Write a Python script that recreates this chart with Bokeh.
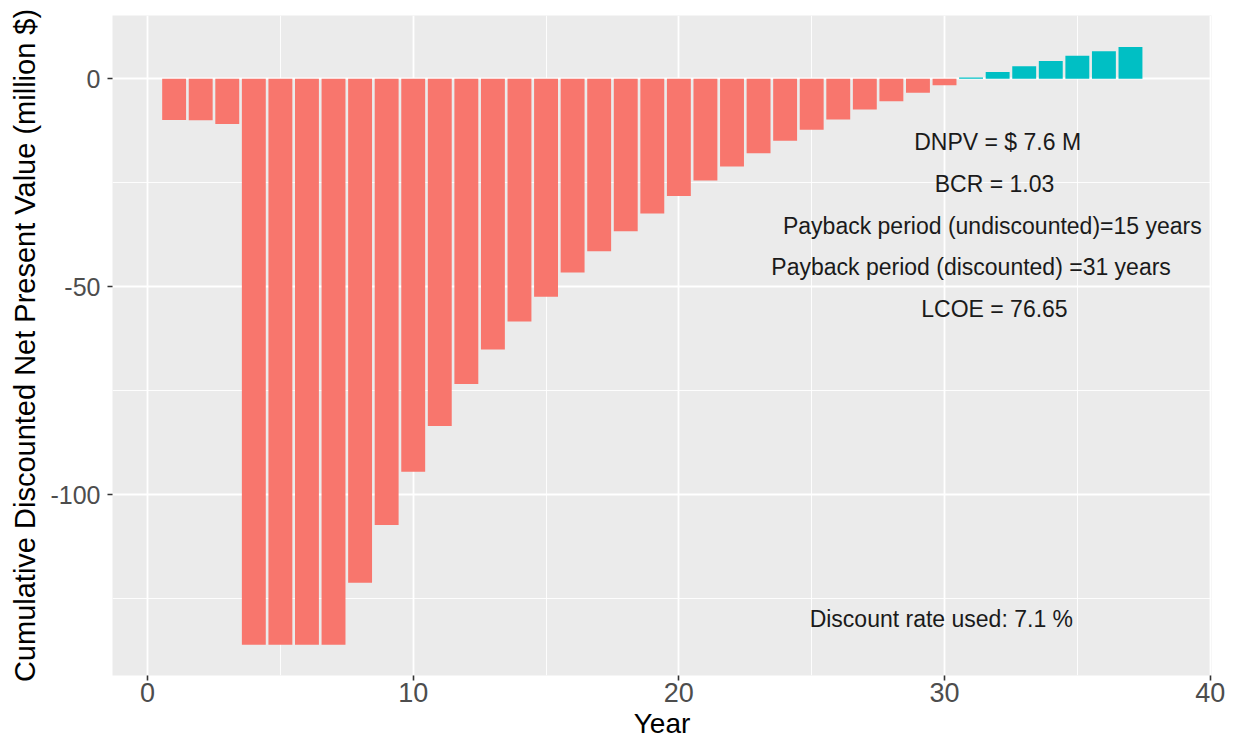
from bokeh.plotting import figure
from bokeh.models import ColumnDataSource, Range1d, FixedTicker
from bokeh.embed import file_html
from bokeh.resources import INLINE
from bokeh.core.properties import value

# ---- data ----
years = list(range(1, 38))
cum_dnpv = [-9.9, -10.0, -10.9, -136.1, -136.1, -136.1, -136.1, -121.2, -107.3, -94.5,
            -83.5, -73.4, -65.1, -58.4, -52.4, -46.6, -41.5, -36.7, -32.4, -28.2,
            -24.5, -21.1, -17.9, -14.9, -12.3, -9.8, -7.4, -5.4, -3.4, -1.6,
            0.3, 1.6, 3.0, 4.25, 5.5, 6.6, 7.6]
x_ticks = [0, 10, 20, 30, 40]
y_ticks = [-100, -50, 0]
y_tick_labels = ["-100", "-50", "0"]
annot_texts = ["DNPV = $ 7.6 M",
               "BCR =  1.03",
               "Payback period (undiscounted)=15 years",
               "Payback period (discounted) =31 years",
               "LCOE =  76.65",
               "Discount rate used:  7.1 %"]

# ---- positions / styles ----
annot_x = [32.0, 32.0, 31.8, 31.0, 32.0, 30.0]
annot_y = [-15.3, -25.3, -35.3, -45.3, -55.3, -130.0]
NEG = "#F8766D"
POS = "#00BFC4"
colors = [POS if v > 0 else NEG for v in cum_dnpv]
FONT = "Liberation Sans"

p = figure(width=1241, height=745, output_backend="svg", toolbar_location=None,
           x_range=Range1d(-1.32, 40.05), y_range=Range1d(-143.5, 15.2),
           min_border_left=112, min_border_right=30, min_border_top=15,
           min_border_bottom=70)
p.background_fill_color = "#EBEBEB"
p.border_fill_color = "white"
p.outline_line_color = None

src = ColumnDataSource(dict(year=years, val=cum_dnpv, color=colors))
p.vbar(x="year", top="val", bottom=0, width=0.9, fill_color="color",
       line_color=None, source=src)

tsrc = ColumnDataSource(dict(x=annot_x, y=annot_y, t=annot_texts))
p.text(x="x", y="y", text="t", source=tsrc, text_align="center",
       text_baseline="middle", text_font=value(FONT), text_font_size="23px",
       text_color="#1a1a1a")

xt = FixedTicker(ticks=x_ticks, minor_ticks=[5, 15, 25, 35])
yt = FixedTicker(ticks=y_ticks, minor_ticks=[-125, -75, -25])
p.xaxis.ticker = xt
p.yaxis.ticker = yt
p.xgrid.ticker = xt
p.ygrid.ticker = yt
p.yaxis.major_label_overrides = dict(zip(y_ticks, y_tick_labels))
for g in (p.xgrid, p.ygrid):
    g.grid_line_color = "white"
    g.grid_line_width = 1.8
    g.minor_grid_line_color = "white"
    g.minor_grid_line_width = 0.9

for ax in (p.xaxis, p.yaxis):
    ax.axis_line_color = None
    ax.major_tick_line_color = "#333333"
    ax.major_tick_line_width = 1.6
    ax.major_tick_out = 5
    ax.major_tick_in = 0
    ax.minor_tick_line_color = None
    ax.major_label_text_font = FONT
    ax.major_label_text_color = "#4D4D4D"
    ax.axis_label_text_font = FONT
    ax.axis_label_text_font_style = "normal"
    ax.axis_label_text_color = "black"

p.xaxis.axis_label = "Year"
p.xaxis.major_label_text_font_size = "27px"
p.xaxis.axis_label_text_font_size = "28px"
p.xaxis.major_label_standoff = 2
p.xaxis.axis_label_standoff = 3

p.yaxis.axis_label = "Cumulative Discounted Net Present Value (million $)"
p.yaxis.major_label_text_font_size = "25px"
p.yaxis.axis_label_text_font_size = "29px"
p.yaxis.major_label_standoff = 7
p.yaxis.axis_label_standoff = 6

open("out.html", "w").write(file_html(p, INLINE))
